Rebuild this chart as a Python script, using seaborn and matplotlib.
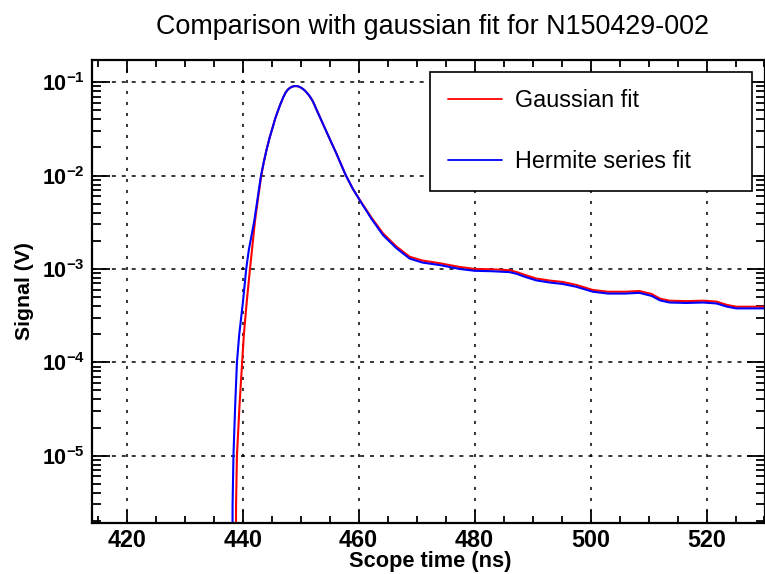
import numpy as np
import pandas as pd
import matplotlib
matplotlib.use("Agg")
import matplotlib.pyplot as plt
from matplotlib.ticker import MultipleLocator, LogLocator, NullFormatter
import seaborn as sns

# ---------------- data ----------------
title = "Comparison with gaussian fit for N150429-002"
x_label = "Scope time (ns)"
y_label = "Signal (V)"
series_names = ["Gaussian fit", "Hermite series fit"]

gauss_t = [438.75, 438.85, 439.0, 439.45, 439.9, 440.2, 440.7, 441.25, 441.5, 442.1,
           442.6, 443.2, 443.6, 444.1, 444.6, 445.2, 445.6, 446.1, 446.5, 447.0,
           447.4, 447.8, 448.1, 448.5, 448.8, 449.1, 449.5, 449.8, 450.1, 450.4,
           450.7, 451.0, 451.3, 451.6, 452.1, 452.7, 453.5, 454.4, 455.3, 456.2,
           457.0, 457.8, 459.0, 460.3, 462.2, 464.2, 466.5, 468.8, 471.0, 474.0,
           477.4, 480.0, 483.0, 486.0, 487.3, 488.5, 490.6, 493.0, 495.2, 497.5,
           500.4, 503.0, 506.0, 508.4, 510.5, 512.0, 513.6, 516.5, 519.4, 521.7,
           523.5, 525.1, 527.5, 530.0]
gauss_v = [1e-8, 3e-6, 1.0e-5, 3.5e-5, 1.0e-4, 2.0e-4, 4.5e-4, 1.0e-3, 1.4e-3, 3.2e-3,
           5.5e-3, 1.0e-2, 1.36e-2, 1.88e-2, 2.5e-2, 3.34e-2, 4.08e-2, 5.0e-2, 5.82e-2, 6.92e-2,
           7.76e-2, 8.36e-2, 8.67e-2, 8.95e-2, 9.06e-2, 9.1e-2, 9.06e-2, 8.91e-2, 8.71e-2, 8.45e-2,
           8.15e-2, 7.8e-2, 7.41e-2, 7.0e-2, 6.24e-2, 5.13e-2, 3.98e-2, 2.99e-2, 2.25e-2, 1.70e-2,
           1.3e-2, 1.0e-2, 7.2e-3, 5.35e-3, 3.55e-3, 2.4e-3, 1.74e-3, 1.35e-3, 1.23e-3, 1.15e-3,
           1.05e-3, 1.0e-3, 9.9e-4, 9.7e-4, 9.25e-4, 8.7e-4, 7.9e-4, 7.5e-4, 7.25e-4, 6.75e-4,
           5.95e-4, 5.7e-4, 5.7e-4, 5.8e-4, 5.4e-4, 4.8e-4, 4.57e-4, 4.52e-4, 4.57e-4, 4.47e-4,
           4.12e-4, 3.94e-4, 3.94e-4, 3.94e-4]

herm_t = [438.15, 438.25, 438.4, 438.7, 439.0, 439.4, 440.05, 440.6, 441.05, 442.0,
          442.55, 443.15, 443.6, 444.1, 444.6, 445.2, 445.6, 446.1, 446.5, 447.0,
          447.4, 447.8, 448.1, 448.5, 448.8, 449.1, 449.5, 449.8, 450.1, 450.4,
          450.7, 451.0, 451.3, 451.6, 452.1, 452.7, 453.5, 454.4, 455.3, 456.2,
          457.0, 457.8, 459.0, 460.3, 462.2, 464.2, 466.5, 468.8, 471.0, 474.0,
          477.4, 480.0, 483.0, 486.0, 487.3, 488.5, 490.6, 493.0, 495.2, 497.5,
          500.4, 503.0, 506.0, 508.4, 510.5, 512.0, 513.6, 516.5, 519.4, 521.7,
          523.5, 525.1, 527.5, 530.0]
herm_v = [1e-8, 3e-6, 1.0e-5, 3.5e-5, 1.0e-4, 2.0e-4, 4.5e-4, 1.0e-3, 1.6e-3, 3.3e-3,
          5.6e-3, 1.0e-2, 1.37e-2, 1.88e-2, 2.5e-2, 3.34e-2, 4.08e-2, 5.0e-2, 5.82e-2, 6.92e-2,
          7.76e-2, 8.36e-2, 8.67e-2, 8.95e-2, 9.06e-2, 9.1e-2, 9.06e-2, 8.91e-2, 8.71e-2, 8.45e-2,
          8.15e-2, 7.8e-2, 7.41e-2, 7.0e-2, 6.24e-2, 5.13e-2, 3.98e-2, 2.99e-2, 2.25e-2, 1.70e-2,
          1.3e-2, 1.0e-2, 7.2e-3, 5.3e-3, 3.45e-3, 2.3e-3, 1.67e-3, 1.29e-3, 1.17e-3, 1.1e-3,
          1.0e-3, 9.55e-4, 9.45e-4, 9.25e-4, 8.85e-4, 8.3e-4, 7.55e-4, 7.15e-4, 6.9e-4, 6.45e-4,
          5.7e-4, 5.45e-4, 5.45e-4, 5.55e-4, 5.15e-4, 4.6e-4, 4.37e-4, 4.32e-4, 4.37e-4, 4.27e-4,
          3.95e-4, 3.78e-4, 3.78e-4, 3.78e-4]

x_ticks = [420, 440, 460, 480, 500, 520]
x_tick_labels = ["420", "440", "460", "480", "500", "520"]
y_ticks = [1e-5, 1e-4, 1e-3, 1e-2, 1e-1]
y_tick_labels = [r"$\mathbf{10^{-5}}$", r"$\mathbf{10^{-4}}$", r"$\mathbf{10^{-3}}$",
                 r"$\mathbf{10^{-2}}$", r"$\mathbf{10^{-1}}$"]

# ---------------- styling ----------------
sns.set_theme(style="ticks")
plt.rcParams["font.family"] = ["Liberation Sans", "DejaVu Sans"]
plt.rcParams["mathtext.fontset"] = "custom"
plt.rcParams["mathtext.rm"] = "Liberation Sans"
plt.rcParams["mathtext.bf"] = "Liberation Sans:bold"
plt.rcParams["mathtext.it"] = "Liberation Sans:italic"
for k in ["text.color", "axes.labelcolor", "xtick.color", "ytick.color", "axes.edgecolor"]:
    plt.rcParams[k] = "black"

df = pd.concat([
    pd.DataFrame({"t": gauss_t, "v": gauss_v, "fit": series_names[0]}),
    pd.DataFrame({"t": herm_t, "v": herm_v, "fit": series_names[1]}),
], ignore_index=True)

W, H = 765, 574
fig = plt.figure(figsize=(W / 100, H / 100), dpi=100)
fig.patch.set_facecolor("white")
L, R, T, B = 92, 764.5, 60, 523
ax = fig.add_axes([L / W, 1 - B / H, (R - L) / W, (B - T) / H])
ax.set_facecolor("white")

sns.lineplot(data=df, x="t", y="v", hue="fit", estimator=None, sort=True,
             palette={series_names[0]: "#ff0000", series_names[1]: "#0000ff"},
             linewidth=1.5, ax=ax)

ax.set_yscale("log")
ax.set_xlim(414, 530)
ax.set_ylim(1.9e-6, 0.173)

ax.set_xticks(x_ticks, labels=x_tick_labels, fontsize=16.8, fontweight="bold")
ax.set_yticks(y_ticks, labels=y_tick_labels, fontsize=15.5)
ax.xaxis.set_minor_locator(MultipleLocator(5))
ax.yaxis.set_minor_locator(LogLocator(base=10, subs=np.arange(2, 10)))
ax.yaxis.set_minor_formatter(NullFormatter())

ax.tick_params(axis="x", which="major", direction="in", length=9.4, width=1.3,
               top=True, bottom=True, pad=4, colors="black")
ax.tick_params(axis="x", which="minor", direction="in", length=5, width=1.3,
               top=True, bottom=True)
ax.tick_params(axis="y", which="major", direction="in", length=13, width=1.3,
               left=True, right=True, pad=5, colors="black")
ax.tick_params(axis="y", which="minor", direction="in", length=6.5, width=1.3,
               left=True, right=True)

for s in ax.spines.values():
    s.set_color("black")
    s.set_linewidth(1.6)

ax.xaxis.grid(True, which="major", color="black", linewidth=1.1, linestyle=(0, (2.0, 5.2)))
ax.yaxis.grid(True, which="major", color="black", linewidth=1.1, linestyle=(0, (2.6, 3.9)))

ax.set_xlabel(x_label, fontsize=15.7, fontweight="bold", va="center")
ax.xaxis.set_label_coords((430 - L) / (R - L), (B - 562) / (B - T))
ax.set_ylabel(y_label, fontsize=15.3, fontweight="bold", va="center")
ax.yaxis.set_label_coords((25 - L) / (R - L), (B - 291) / (B - T))

handles, labels = ax.get_legend_handles_labels()
leg = ax.legend(handles, labels, loc="upper left",
                bbox_to_anchor=((430 - L) / (R - L), (B - 192) / (B - T),
                                (752 - 430) / (R - L), (192 - 72) / (B - T)),
                mode="expand", borderaxespad=0, borderpad=0.75, labelspacing=1.62,
                handlelength=2.34, handletextpad=0.55, fontsize=16.8,
                frameon=True, fancybox=False, framealpha=1, edgecolor="black")
leg.get_frame().set_linewidth(1.2)
for ln in leg.get_lines():
    ln.set_linewidth(1.3)

fig.text(433 / W, 1 - 34 / H, title, ha="center", va="baseline", fontsize=19.4, color="black")

fig.savefig("out.png", dpi=100, facecolor="white")
